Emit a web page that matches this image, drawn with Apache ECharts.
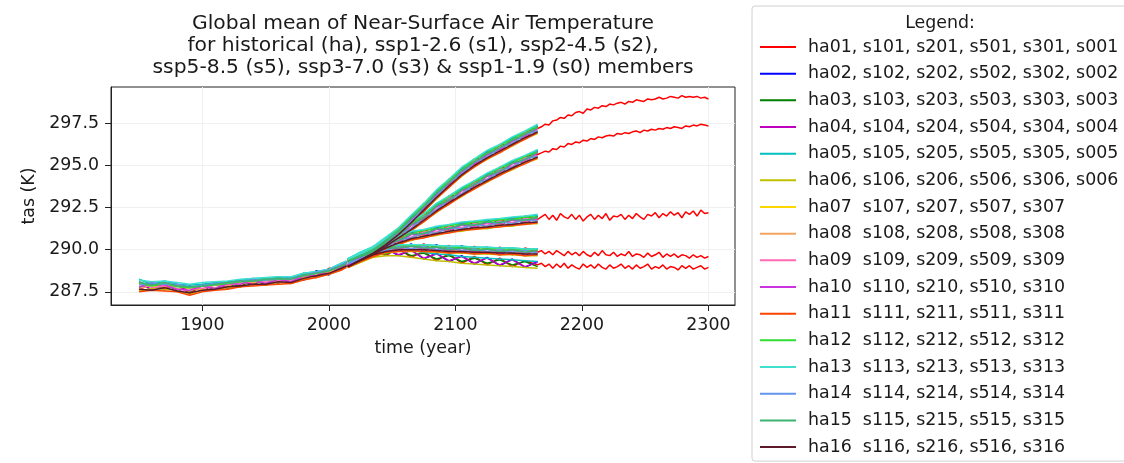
<!DOCTYPE html>
<html><head><meta charset="utf-8">
<script src="https://cdn.jsdelivr.net/npm/echarts@6/dist/echarts.min.js"></script>
<style>html,body{margin:0;padding:0;background:#fff}#c{width:1124px;height:463px}</style>
</head><body><div id="c"></div><script>
const titleText = 'Global mean of Near-Surface Air Temperature\nfor historical (ha), ssp1-2.6 (s1), ssp2-4.5 (s2),\nssp5-8.5 (s5), ssp3-7.0 (s3) & ssp1-1.9 (s0) members';
const legendTitle = 'Legend:';
const xName = 'time (year)';
const yName = 'tas (K)';
const memberNames = [
  'ha01, s101, s201, s501, s301, s001', 'ha02, s102, s202, s502, s302, s002',
  'ha03, s103, s203, s503, s303, s003', 'ha04, s104, s204, s504, s304, s004',
  'ha05, s105, s205, s505, s305, s005', 'ha06, s106, s206, s506, s306, s006',
  'ha07  s107, s207, s507, s307', 'ha08  s108, s208, s508, s308',
  'ha09  s109, s209, s509, s309', 'ha10  s110, s210, s510, s310',
  'ha11  s111, s211, s511, s311', 'ha12  s112, s212, s512, s312',
  'ha13  s113, s213, s513, s313', 'ha14  s114, s214, s514, s314',
  'ha15  s115, s215, s515, s315', 'ha16  s116, s216, s516, s316'
];
const memberColors = ['#ff0000','#0000ff','#008000','#bf00bf','#00bfbf','#bfbf00','#ffd700','#f4a460',
  '#ff69b4','#cc33e0','#ff4500','#32dd32','#40e0d0','#6495ed','#3cb371','#5c1a2a'];
const xTicks = [1900, 2000, 2100, 2200, 2300];
const yTicks = [287.5, 290.0, 292.5, 295.0, 297.5];

const histYears = [1850,1860,1870,1880,1890,1900,1910,1920,1930,1940,1950,1960,1970,1980,1990,2000,2010,2014];
const sspYears = [2015,2025,2035,2045,2055,2065,2075,2085,2095,2105,2115,2125,2135,2145,2155,2165];
const extYears = [2168,2171,2174,2177,2180,2183,2186,2189,2192,2195,2198,2201,2204,2207,2210,2213,2216,2219,2222,2225,2228,2231,2234,2237,2240,2243,2246,2249,2252,2255,2258,2261,2264,2267,2270,2273,2276,2279,2282,2285,2288,2291,2294,2297,2300];

const ha = [
[287.60,288.05,287.70,287.95,287.40,287.90,287.60,288.10,287.85,288.30,287.95,288.40,288.05,288.60,288.35,288.90,288.85,289.30],
[288.10,287.60,288.05,287.55,287.85,287.55,288.00,287.70,288.20,287.90,288.30,288.00,288.40,288.20,288.75,288.50,289.20,289.00],
[287.75,288.00,287.60,287.90,287.50,287.95,287.65,288.05,287.80,288.25,287.90,288.35,288.00,288.55,288.40,288.85,288.80,289.25],
[288.00,287.65,288.10,287.60,287.80,287.60,287.95,287.75,288.15,287.95,288.25,288.05,288.35,288.25,288.70,288.55,289.15,289.05],
[288.25,287.95,288.15,287.95,287.90,287.95,288.05,288.10,288.20,288.30,288.30,288.40,288.35,288.60,288.70,288.85,289.20,289.30],
[287.55,287.70,287.65,287.60,287.35,287.60,287.65,287.75,287.80,287.95,287.90,288.05,288.00,288.25,288.35,288.55,288.80,289.00],
[287.95,287.85,287.80,287.85,287.70,287.65,287.95,287.85,288.10,288.05,288.25,288.10,288.30,288.35,288.60,288.65,289.05,289.10],
[287.70,287.90,287.95,287.70,287.55,287.85,287.75,287.95,287.95,288.15,288.05,288.25,288.15,288.45,288.50,288.75,288.95,289.20],
[288.05,287.75,287.85,287.85,287.75,287.70,287.90,287.90,288.05,288.10,288.15,288.15,288.25,288.40,288.60,288.70,289.10,289.15],
[287.80,287.95,287.90,287.65,287.60,287.85,287.70,288.00,287.95,288.20,288.00,288.25,288.10,288.45,288.45,288.80,288.95,289.20],
[287.50,287.60,287.55,287.50,287.30,287.50,287.60,287.65,287.80,287.85,287.90,287.95,288.00,288.20,288.35,288.55,288.80,288.95],
[288.00,287.85,288.00,287.80,287.75,287.85,287.90,288.00,288.10,288.15,288.20,288.25,288.30,288.45,288.60,288.75,289.05,289.20],
[288.20,288.10,288.15,288.05,287.95,288.05,288.10,288.15,288.25,288.30,288.35,288.40,288.40,288.60,288.70,288.85,289.20,289.35],
[287.90,288.05,287.95,287.95,287.80,287.90,288.00,288.05,288.15,288.20,288.20,288.30,288.30,288.50,288.65,288.80,289.10,289.25],
[288.10,287.90,288.05,287.85,287.80,287.85,287.95,288.05,288.15,288.15,288.25,288.30,288.25,288.50,288.60,288.75,289.05,289.15],
[287.65,287.60,287.75,287.55,287.45,287.60,287.65,287.80,287.85,287.95,287.95,288.10,288.05,288.30,288.45,288.60,288.90,289.05]
];
const s1 = [
[289.40,289.30,290.05,289.80,290.35,289.90,290.35,289.85,290.25,289.80,290.20,289.75,290.15,289.70,290.10,289.85],
[289.00,289.70,289.60,290.25,289.90,290.35,289.90,290.30,289.80,290.25,289.75,290.15,289.70,290.10,289.65,290.05],
[289.30,289.40,289.95,289.90,290.25,290.00,290.25,289.95,290.15,289.90,290.10,289.85,290.05,289.80,290.00,289.75],
[289.05,289.65,289.65,290.20,289.95,290.30,289.95,290.25,289.85,290.20,289.80,290.10,289.75,290.05,289.70,290.00],
[289.45,289.75,290.05,290.20,290.30,290.30,290.30,290.25,290.20,290.20,290.15,290.15,290.10,290.10,290.05,290.05],
[288.95,289.25,289.60,289.80,289.90,289.90,289.90,289.85,289.80,289.80,289.75,289.75,289.70,289.70,289.65,289.65],
[289.25,289.35,289.90,289.90,290.20,290.00,290.20,289.95,290.10,289.90,290.05,289.85,290.00,289.80,289.95,289.80],
[289.15,289.60,289.70,290.15,290.00,290.25,290.00,290.20,289.90,290.15,289.85,290.10,289.80,290.05,289.75,290.00],
[289.35,289.45,289.90,289.95,290.20,290.05,290.20,290.00,290.10,289.95,290.05,289.90,290.00,289.85,289.95,289.80],
[289.10,289.55,289.75,290.10,290.05,290.20,290.05,290.15,289.95,290.10,289.90,290.05,289.85,290.00,289.80,289.95],
[288.95,289.30,289.60,289.85,289.90,289.95,289.90,289.90,289.80,289.85,289.75,289.80,289.70,289.75,289.65,289.70],
[289.40,289.65,289.95,290.15,290.25,290.25,290.25,290.20,290.15,290.15,290.10,290.10,290.05,290.05,290.00,290.00],
[289.45,289.75,290.00,290.20,290.30,290.30,290.30,290.25,290.20,290.20,290.15,290.15,290.10,290.10,290.05,290.05],
[289.20,289.40,289.85,289.95,290.20,290.05,290.20,290.00,290.10,289.95,290.05,289.90,290.00,289.85,289.95,289.80],
[289.30,289.60,289.80,290.10,290.10,290.20,290.10,290.15,290.00,290.10,289.95,290.05,289.90,290.00,289.85,289.95],
[289.00,289.35,289.70,289.90,290.00,290.00,290.00,289.95,289.90,289.90,289.85,289.85,289.80,289.80,289.75,289.75]
];
const s2 = [
[289.40,289.35,290.15,290.05,290.80,290.60,291.20,290.90,291.50,291.15,291.70,291.30,291.85,291.45,292.00,291.80],
[289.00,289.75,289.70,290.50,290.35,291.05,290.75,291.35,291.05,291.60,291.25,291.75,291.40,291.90,291.55,292.00],
[289.30,289.45,290.05,290.15,290.70,290.65,291.10,291.00,291.40,291.25,291.60,291.40,291.75,291.55,291.90,291.70],
[289.05,289.70,289.75,290.45,290.40,291.00,290.80,291.30,291.10,291.55,291.30,291.70,291.45,291.85,291.60,291.95],
[289.45,289.80,290.10,290.50,290.75,291.05,291.15,291.35,291.45,291.60,291.65,291.75,291.80,291.90,291.95,292.05],
[288.95,289.30,289.70,290.00,290.35,290.55,290.75,290.85,291.05,291.10,291.25,291.25,291.40,291.40,291.55,291.55],
[289.25,289.40,290.00,290.15,290.65,290.70,291.05,291.00,291.35,291.25,291.55,291.40,291.70,291.55,291.85,291.70],
[289.15,289.65,289.80,290.40,290.45,290.95,290.85,291.25,291.15,291.50,291.35,291.65,291.50,291.80,291.65,291.90],
[289.35,289.50,290.00,290.20,290.65,290.75,291.05,291.05,291.35,291.30,291.55,291.45,291.70,291.60,291.85,291.75],
[289.10,289.60,289.85,290.35,290.50,290.90,290.90,291.20,291.20,291.45,291.40,291.60,291.55,291.75,291.70,291.85],
[288.95,289.35,289.65,290.05,290.30,290.60,290.70,290.90,291.00,291.15,291.20,291.30,291.35,291.45,291.50,291.60],
[289.40,289.70,290.10,290.40,290.75,290.95,291.15,291.25,291.45,291.50,291.65,291.65,291.80,291.80,291.95,291.95],
[289.45,289.85,290.15,290.55,290.80,291.10,291.20,291.40,291.50,291.65,291.70,291.80,291.85,291.95,292.00,292.10],
[289.20,289.45,289.95,290.15,290.60,290.70,291.00,291.00,291.30,291.25,291.50,291.40,291.65,291.55,291.80,291.70],
[289.30,289.65,289.90,290.40,290.55,290.95,290.95,291.25,291.25,291.50,291.45,291.65,291.60,291.80,291.75,291.90],
[289.00,289.40,289.75,290.10,290.40,290.65,290.80,290.95,291.10,291.20,291.30,291.35,291.45,291.50,291.60,291.65]
];
const s5 = [
[289.40,289.35,290.20,290.25,291.30,291.55,292.75,293.05,294.20,294.40,295.40,295.40,296.25,296.20,297.00,297.20],
[289.00,289.75,289.75,290.70,290.85,292.00,292.30,293.50,293.75,294.85,294.95,295.85,295.80,296.65,296.60,297.35],
[289.30,289.45,290.10,290.30,291.20,291.60,292.65,293.10,294.10,294.45,295.30,295.45,296.15,296.25,296.95,297.00],
[289.05,289.70,289.80,290.65,290.90,291.95,292.35,293.45,293.80,294.80,295.00,295.80,295.85,296.60,296.65,297.30],
[289.45,289.80,290.15,290.70,291.25,292.00,292.70,293.50,294.15,294.85,295.35,295.85,296.20,296.65,297.00,297.40],
[288.95,289.30,289.75,290.20,290.85,291.50,292.30,293.00,293.75,294.35,294.95,295.35,295.80,296.15,296.60,296.90],
[289.25,289.40,290.05,290.35,291.15,291.65,292.60,293.15,294.05,294.50,295.25,295.50,296.10,296.30,296.90,297.05],
[289.15,289.65,289.85,290.55,290.95,291.85,292.40,293.35,293.85,294.70,295.05,295.70,295.90,296.50,296.70,297.25],
[289.35,289.50,290.05,290.40,291.15,291.70,292.55,293.20,294.05,294.55,295.25,295.55,296.10,296.35,296.90,297.10],
[289.10,289.60,289.90,290.50,291.00,291.80,292.45,293.30,293.90,294.65,295.10,295.65,295.95,296.45,296.75,297.20],
[288.95,289.35,289.70,290.25,290.80,291.55,292.25,293.05,293.70,294.40,294.90,295.40,295.75,296.20,296.55,296.95],
[289.40,289.70,290.15,290.60,291.25,291.90,292.70,293.40,294.15,294.75,295.35,295.75,296.20,296.55,297.00,297.30],
[289.45,289.85,290.20,290.75,291.30,292.05,292.75,293.55,294.20,294.90,295.40,295.90,296.25,296.70,297.05,297.45],
[289.20,289.45,290.00,290.35,291.10,291.65,292.55,293.15,294.00,294.50,295.20,295.50,296.05,296.30,296.85,297.05],
[289.30,289.65,290.00,290.55,291.10,291.85,292.55,293.35,294.00,294.70,295.20,295.70,296.05,296.50,296.85,297.25],
[289.00,289.40,289.80,290.30,290.90,291.60,292.35,293.10,293.80,294.45,295.00,295.45,295.85,296.25,296.65,297.00]
];
const s3 = [
[289.40,289.35,290.15,290.15,291.10,291.15,292.15,292.25,293.20,293.20,294.10,294.05,294.90,294.80,295.55,295.65],
[289.00,289.75,289.70,290.60,290.65,291.60,291.70,292.70,292.75,293.65,293.65,294.50,294.45,295.25,295.15,295.90],
[289.30,289.45,290.05,290.25,291.00,291.20,292.05,292.30,293.10,293.25,294.00,294.10,294.80,294.85,295.50,295.50],
[289.05,289.70,289.75,290.55,290.70,291.55,291.75,292.65,292.80,293.60,293.70,294.45,294.50,295.20,295.20,295.85],
[289.45,289.80,290.10,290.60,291.05,291.60,292.10,292.70,293.15,293.65,294.05,294.50,294.85,295.25,295.55,295.90],
[288.95,289.30,289.70,290.10,290.65,291.10,291.70,292.20,292.75,293.15,293.65,294.00,294.45,294.75,295.15,295.40],
[289.25,289.40,290.00,290.25,290.95,291.25,292.00,292.35,293.05,293.30,293.95,294.15,294.75,294.90,295.45,295.55],
[289.15,289.65,289.80,290.50,290.75,291.50,291.80,292.60,292.85,293.55,293.75,294.40,294.55,295.15,295.25,295.80],
[289.35,289.50,290.00,290.30,290.95,291.30,292.00,292.40,293.05,293.35,293.95,294.20,294.75,294.95,295.45,295.60],
[289.10,289.60,289.85,290.45,290.80,291.45,291.85,292.55,292.90,293.50,293.80,294.35,294.60,295.10,295.30,295.75],
[288.95,289.35,289.65,290.15,290.60,291.15,291.65,292.25,292.70,293.20,293.60,294.05,294.40,294.80,295.10,295.45],
[289.40,289.70,290.10,290.50,291.05,291.50,292.10,292.60,293.15,293.55,294.05,294.40,294.85,295.15,295.55,295.80],
[289.45,289.85,290.15,290.65,291.10,291.65,292.15,292.75,293.20,293.70,294.10,294.55,294.90,295.30,295.60,295.95],
[289.20,289.45,289.95,290.25,290.90,291.25,291.95,292.35,293.00,293.30,293.90,294.15,294.70,294.90,295.40,295.55],
[289.30,289.65,289.90,290.50,290.85,291.50,291.90,292.60,292.95,293.55,293.85,294.40,294.65,295.15,295.35,295.80],
[289.00,289.40,289.75,290.20,290.70,291.20,291.75,292.30,292.80,293.25,293.70,294.10,294.50,294.85,295.20,295.50]
];
const s0 = [
[289.40,289.30,290.00,289.65,290.10,289.55,289.90,289.35,289.75,289.20,289.60,289.10,289.50,289.00,289.35,289.10],
[289.00,289.70,289.55,290.10,289.65,290.00,289.45,289.80,289.30,289.65,289.15,289.55,289.05,289.45,288.95,289.30],
[289.30,289.40,289.90,289.75,290.00,289.65,289.80,289.45,289.65,289.30,289.50,289.20,289.40,289.10,289.30,289.00],
[289.05,289.65,289.60,290.05,289.70,289.95,289.50,289.75,289.35,289.60,289.20,289.50,289.10,289.40,289.00,289.25],
[289.45,289.75,290.00,290.05,290.05,289.95,289.85,289.75,289.70,289.60,289.55,289.50,289.45,289.40,289.35,289.30],
[288.95,289.25,289.55,289.65,289.65,289.55,289.45,289.35,289.30,289.20,289.15,289.10,289.05,289.00,288.95,288.90]
];
// member 01 extended runs to 2300
const s5ext = [297.30,297.45,297.40,297.65,297.70,297.85,297.80,298.00,297.95,298.15,298.20,298.10,298.35,298.30,298.45,298.40,298.55,298.50,298.65,298.60,298.70,298.75,298.65,298.80,298.75,298.90,298.85,298.80,298.95,298.90,298.95,299.05,298.95,299.00,299.10,299.05,299.00,299.15,299.05,299.10,299.05,299.10,299.00,299.05,298.95];
const s3ext = [295.75,295.85,295.80,296.00,295.95,296.15,296.10,296.30,296.25,296.40,296.35,296.50,296.45,296.60,296.55,296.70,296.65,296.75,296.80,296.75,296.90,296.85,296.95,296.90,297.00,297.05,296.95,297.10,297.05,297.15,297.10,297.20,297.15,297.25,297.20,297.30,297.25,297.20,297.35,297.30,297.40,297.35,297.45,297.40,297.35];
const s2ext = [291.95,292.10,291.80,292.05,291.75,292.15,291.95,291.85,292.10,291.80,292.05,291.70,291.95,292.10,291.80,292.05,291.85,292.15,291.75,292.00,291.95,292.10,291.80,292.05,291.85,292.15,291.95,291.80,292.10,292.00,292.20,291.90,292.15,292.00,292.25,292.05,292.20,291.90,292.25,292.10,292.30,292.00,292.35,292.15,292.20];
const s1ext = [289.95,289.75,289.90,289.70,289.95,289.80,289.65,289.90,289.70,289.85,289.65,289.90,289.70,289.60,289.85,289.65,289.95,289.70,289.65,289.85,289.60,289.75,289.65,289.90,289.60,289.75,289.70,289.55,289.80,289.60,289.70,289.85,289.55,289.75,289.60,289.75,289.55,289.70,289.65,289.50,289.70,289.55,289.65,289.50,289.60];
const s0ext = [289.20,289.00,289.15,288.90,289.15,288.95,289.20,288.90,289.10,288.95,288.85,289.15,288.95,289.10,288.90,289.15,288.95,288.85,289.10,288.90,289.00,289.15,288.90,289.05,288.85,289.10,288.90,289.00,289.15,288.85,289.00,288.90,289.10,288.85,289.00,288.95,288.80,289.05,288.90,289.05,288.85,288.95,289.05,288.85,288.95];

function pairs(xs, ys) {
  const n = Math.min(xs.length, ys.length), out = [];
  for (let i = 0; i < n; i++) out.push([xs[i], ys[i]]);
  return out;
}
const FONT = 'DejaVu Sans';
const TXT = '#1a1a1a';
const series = [];
function addLine(m, data) {
  series.push({
    type: 'line', name: memberNames[m], data: data, symbol: 'none', showSymbol: false,
    lineStyle: { width: 1.5, color: memberColors[m] }, itemStyle: { color: memberColors[m] },
    animation: false, silent: true
  });
}
const scen = [[s1, s1ext], [s2, s2ext], [s5, s5ext], [s3, s3ext], [s0, s0ext]];
for (let m = 0; m < 16; m++) {
  addLine(m, pairs(histYears, ha[m]));
  for (const [arr, ext] of scen) {
    if (!arr[m]) continue;
    let d = pairs(sspYears, arr[m]);
    if (m === 0) d = d.concat(pairs(extYears, ext));
    addLine(m, d);
  }
}

const chart = echarts.init(document.getElementById('c'), null, { renderer: 'canvas' });
chart.setOption({
  backgroundColor: '#ffffff',
  animation: false,
  title: [
    { text: titleText, left: 423, top: 13, padding: 0, textAlign: 'center',
      textStyle: { fontFamily: FONT, fontSize: 20.3, fontWeight: 'normal', color: TXT, lineHeight: 22 } },
    { text: legendTitle, left: 940, top: 13, padding: 0, textAlign: 'center',
      textStyle: { fontFamily: FONT, fontSize: 17.4, fontWeight: 'normal', color: TXT, lineHeight: 20 } }
  ],
  legend: {
    orient: 'vertical', left: 752, top: 6, padding: [31, 20, 4, 8],
    itemWidth: 36, itemHeight: 2, itemGap: 6.67, icon: 'rect',
    data: memberNames,
    borderColor: '#d0d0d0', borderWidth: 1, borderRadius: 3, backgroundColor: '#ffffff',
    textStyle: { fontFamily: FONT, fontSize: 17.4, color: TXT, lineHeight: 20, padding: [0, 0, 0, 7] },
    selectedMode: false
  },
  grid: { left: 111, right: 389, top: 87, bottom: 158, show: true, borderColor: '#222', borderWidth: 1, backgroundColor: '#fff' },
  xAxis: {
    type: 'value', min: 1827.8, max: 2321,
    name: xName, nameLocation: 'middle', nameGap: 35,
    nameTextStyle: { fontFamily: FONT, fontSize: 17.4, color: TXT },
    axisLine: { show: true, lineStyle: { color: '#222', width: 1 } },
    axisTick: { show: true, length: 6, customValues: xTicks, lineStyle: { color: '#222', width: 1 } },
    axisLabel: { customValues: xTicks, margin: 12, fontFamily: FONT, fontSize: 17.4, color: TXT,
      formatter: v => String(v) },
    splitLine: { show: true, lineStyle: { color: '#f0f0f0', width: 1 } }
  },
  yAxis: {
    type: 'value', min: 286.72, max: 299.66,
    name: yName, nameLocation: 'middle', nameGap: 70,
    nameTextStyle: { fontFamily: FONT, fontSize: 17.4, color: TXT },
    axisLine: { show: true, lineStyle: { color: '#222', width: 1 } },
    axisTick: { show: true, length: 6, customValues: yTicks, lineStyle: { color: '#222', width: 1 } },
    axisLabel: { customValues: yTicks, margin: 12, fontFamily: FONT, fontSize: 17.4, color: TXT,
      formatter: v => Number(v).toFixed(1) },
    splitLine: { show: true, lineStyle: { color: '#f0f0f0', width: 1 } }
  },
  series: series
});
</script></body></html>
